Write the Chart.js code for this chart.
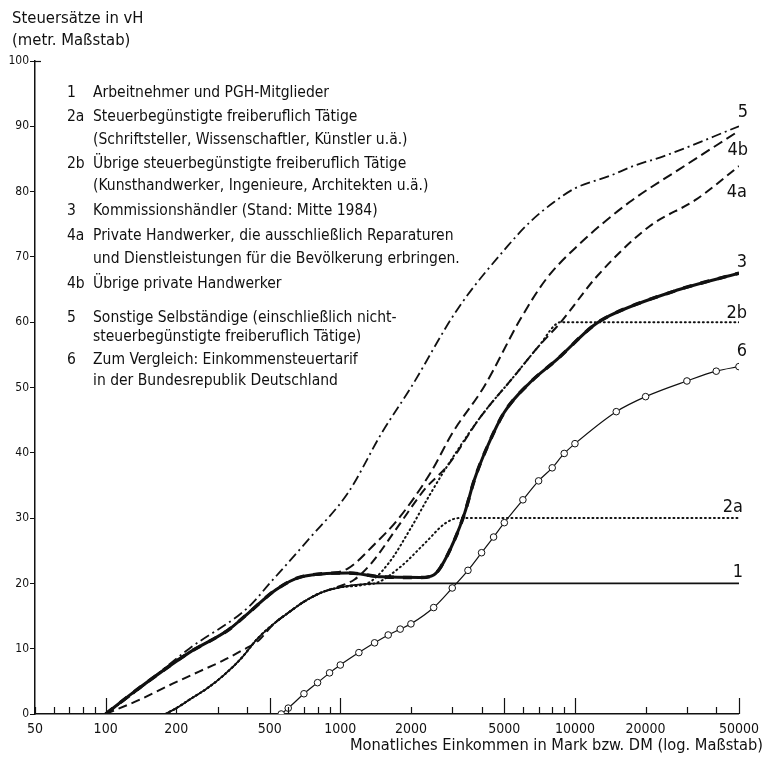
<!DOCTYPE html>
<html>
<head>
<meta charset="utf-8">
<script src="https://cdn.jsdelivr.net/npm/chart.js@4.4.1/dist/chart.umd.min.js"></script>
<style>
html, body { margin: 0; padding: 0; background: #fff; }
canvas { display: block; }
</style>
</head>
<body>
<canvas id="c" width="766" height="757"></canvas>
<script>
const inc1 = [180, 200, 230, 270, 320, 380, 440, 520, 600, 700, 830, 1000, 1200, 1500, 50000];
const val1 = [0, 0.9, 2.3, 3.9, 6.0, 8.6, 11.4, 13.8, 15.5, 17.2, 18.6, 19.4, 19.8, 20, 20];

const inc2a = [180, 200, 230, 270, 320, 380, 440, 520, 600, 700, 830, 1000, 1200, 1400, 1800, 2300, 2800, 3200, 50000];
const val2a = [0, 0.9, 2.3, 3.9, 6.0, 8.6, 11.4, 13.8, 15.5, 17.2, 18.6, 19.4, 19.8, 20, 22.5, 26.2, 29.2, 30, 30];

const inc2b = [180, 200, 230, 270, 320, 380, 440, 520, 600, 700, 830, 1000, 1300, 1600, 2000, 2400, 2860, 3960, 5500, 7000, 8700, 50000];
const val2b = [0, 0.9, 2.3, 3.9, 6.0, 8.6, 11.4, 13.8, 15.5, 17.2, 18.6, 19.4, 20, 23, 28.5, 33.5, 38, 45.5, 51.7, 56.3, 60, 60];

const inc3 = [100, 130, 227, 334, 407, 530, 681, 1080, 1500, 2200, 2500, 2680, 3070, 3390, 3730, 4240, 5000, 6450, 8390, 12000, 14060, 27800, 50000];
const val3 = [0, 3.2, 9.4, 12.9, 15.5, 19, 21, 21.6, 21, 20.9, 21.3, 22.5, 26.7, 30.8, 35.9, 41, 46.2, 50.8, 54.3, 59.5, 61, 65, 67.5];

const inc4a = [100, 140, 192, 250, 313, 380, 450, 520, 600, 700, 830, 1000, 1150, 1350, 1760, 2300, 2860, 3960, 5500, 7000, 8700, 12390, 20800, 32900, 50000];
const val4a = [0, 2.2, 4.6, 6.5, 8.1, 9.7, 11.3, 13.8, 15.5, 17.2, 18.6, 19.6, 20.6, 23, 28.7, 34.5, 38, 45.5, 51.7, 56.3, 60, 67, 74.7, 78.8, 83.9];

const inc4b = [100, 130, 227, 334, 407, 530, 681, 900, 1080, 1400, 1760, 2430, 3000, 4110, 5840, 7500, 10190, 17100, 27800, 50000];
const val4b = [0, 3.2, 9.4, 12.9, 15.5, 19, 21, 21.5, 22.3, 26, 29.8, 37, 43, 50.2, 60.4, 66.5, 71.6, 78.4, 83.4, 89.3];

const inc5 = [100, 130, 227, 407, 500, 731, 1080, 1500, 2000, 3160, 5150, 6500, 8150, 10000, 14060, 18000, 23800, 50000];
const val5 = [0, 3, 10, 16.4, 20, 26.7, 33.9, 43, 50, 62, 71.6, 75.5, 78.4, 80.5, 82.4, 84, 85.4, 90];

const inc6 = [560, 600, 700, 800, 900, 1000, 1200, 1400, 1600, 1800, 2000, 2500, 3000, 3500, 4000, 4500, 5000, 6000, 7000, 8000, 9000, 10000, 15000, 20000, 30000, 40000, 50000];
const val6 = [0, 0.9, 3.1, 4.8, 6.3, 7.5, 9.4, 10.9, 12.1, 13.0, 13.8, 16.3, 19.3, 22.0, 24.7, 27.1, 29.3, 32.8, 35.7, 37.7, 39.9, 41.4, 46.3, 48.6, 51.0, 52.5, 53.2];

// Achsen
const xTicks = [50, 60, 70, 80, 90, 100, 200, 300, 400, 500, 600, 700, 800, 900, 1000,
  2000, 3000, 4000, 5000, 6000, 7000, 8000, 9000, 10000, 20000, 30000, 40000, 50000];
const xLabels = [50, 100, 200, 500, 1000, 2000, 5000, 10000, 20000, 50000];
const xLong = [100, 500, 1000, 5000, 10000, 50000];

const legendRows = [
  ['1', 'Arbeitnehmer und PGH-Mitglieder'],
  ['2a', 'Steuerbegünstigte freiberuflich Tätige'],
  ['', '(Schriftsteller, Wissenschaftler, Künstler u.ä.)'],
  ['2b', 'Übrige steuerbegünstigte freiberuflich Tätige'],
  ['', '(Kunsthandwerker, Ingenieure, Architekten u.ä.)'],
  ['3', 'Kommissionshändler (Stand: Mitte 1984)'],
  ['4a', 'Private Handwerker, die ausschließlich Reparaturen'],
  ['', 'und Dienstleistungen für die Bevölkerung erbringen.'],
  ['4b', 'Übrige private Handwerker'],
  ['5', 'Sonstige Selbständige (einschließlich nicht-'],
  ['', 'steuerbegünstigte freiberuflich Tätige)'],
  ['6', 'Zum Vergleich: Einkommensteuertarif'],
  ['', 'in der Bundesrepublik Deutschland']
];

const FONT = "'DejaVu Sans Condensed', 'DejaVu Sans', sans-serif";
const INK = '#111';

function pts(xs, ys) {
  return xs.map((x, i) => ({ x: x, y: ys[i] }));
}

function line(data, width, dash, extra) {
  return Object.assign({
    data: data,
    borderColor: INK,
    borderWidth: width,
    borderDash: dash,
    pointRadius: 0,
    fill: false,
    cubicInterpolationMode: 'monotone'
  }, extra || {});
}

const extras = {
  id: 'extras',
  afterDraw(chart) {
    const ctx = chart.ctx;
    const xs = chart.scales.x;
    const area = chart.chartArea;
    ctx.save();
    // Teilstriche nach innen
    ctx.strokeStyle = INK;
    ctx.lineWidth = 1.2;
    xTicks.forEach(v => {
      const px = Math.round(xs.getPixelForValue(v)) + 0.5;
      const len = xLong.includes(v) ? 16 : 7;
      ctx.beginPath();
      ctx.moveTo(px, area.bottom);
      ctx.lineTo(px, area.bottom - len);
      ctx.stroke();
    });
    // kleiner Haken oben an der 100
    ctx.beginPath();
    ctx.moveTo(area.left, area.top + 0.5);
    ctx.lineTo(area.left + 6, area.top + 0.5);
    ctx.stroke();

    ctx.fillStyle = INK;
    ctx.textBaseline = 'middle';
    ctx.textAlign = 'left';
    ctx.font = '16.5px ' + FONT;
    ctx.fillText('Steuersätze in vH', 12, 19);
    ctx.fillText('(metr. Maßstab)', 12, 41);

    ctx.font = '15.5px ' + FONT;
    const rowY = [93, 117, 140, 164, 186, 211, 236, 259, 284, 318, 337, 360, 381];
    legendRows.forEach((r, i) => {
      if (r[0]) ctx.fillText(r[0], 67, rowY[i]);
      ctx.fillText(r[1], 93, rowY[i]);
    });

    ctx.textAlign = 'right';
    ctx.font = '16.3px ' + FONT;
    ctx.fillText('Monatliches Einkommen in Mark bzw. DM (log. Maßstab)', 763, 746);

    // Kurvenbezeichnungen rechts
    ctx.font = '18px ' + FONT;
    const tags = [['5', 748, 112], ['4b', 748, 150], ['4a', 747, 192], ['3', 747, 262],
      ['2b', 747, 313], ['6', 747, 351], ['2a', 743, 507], ['1', 743, 572]];
    tags.forEach(t => ctx.fillText(t[0], t[1], t[2]));
    ctx.restore();
  }
};

new Chart(document.getElementById('c'), {
  type: 'line',
  data: {
    datasets: [
      line(pts(inc1, val1), 1.8, []),
      line(pts(inc2a, val2a), 2, [1, 3.5], { borderCapStyle: 'round' }),
      line(pts(inc2b, val2b), 2, [1, 3.5], { borderCapStyle: 'round' }),
      line(pts(inc4a, val4a), 2, [9, 5]),
      line(pts(inc4b, val4b), 2, [10, 5]),
      line(pts(inc5, val5), 1.8, [10, 4, 2, 4]),
      line(pts(inc3, val3), 3, []),
      line(pts(inc3, val3), 1, [], { borderColor: '#fff' }),
      line(pts(inc3, val3), 3.4, [9, 9]),
      line(pts(inc6, val6), 1.2, [], {
        pointRadius: 3.3,
        pointBackgroundColor: '#fff',
        pointBorderColor: INK,
        pointBorderWidth: 1
      })
    ]
  },
  options: {
    responsive: false,
    devicePixelRatio: 1,
    animation: false,
    layout: { padding: { left: 0, right: 23, top: 61, bottom: 0 } },
    plugins: { legend: { display: false }, tooltip: { enabled: false } },
    scales: {
      x: {
        type: 'logarithmic',
        min: 50,
        max: 50000,
        afterBuildTicks: s => { s.ticks = xTicks.map(v => ({ value: v })); },
        afterFit: s => { s.height = 43; },
        grid: { drawOnChartArea: false, drawTicks: false },
        border: { color: INK, width: 1.5 },
        ticks: {
          autoSkip: false,
          maxRotation: 0,
          padding: 7,
          color: INK,
          font: { family: FONT, size: 14 },
          callback: v => xLabels.includes(v) ? String(v) : ''
        }
      },
      y: {
        min: 0,
        max: 100,
        afterFit: s => { s.width = 35; },
        grid: { drawOnChartArea: false, drawTicks: true, tickLength: 5, color: INK },
        border: { color: INK, width: 1.5 },
        ticks: {
          stepSize: 10,
          padding: 1,
          color: INK,
          font: { family: FONT, size: 12 }
        }
      }
    }
  },
  plugins: [extras]
});
</script>
</body>
</html>
